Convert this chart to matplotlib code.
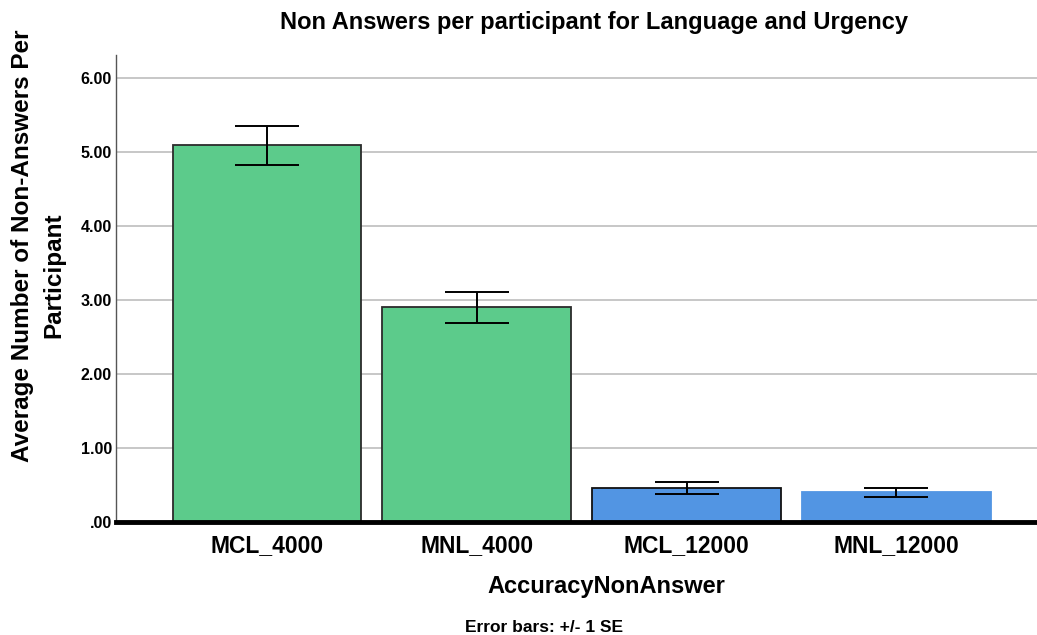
import numpy as np
import matplotlib.pyplot as plt

plt.rcParams['font.family'] = ['Liberation Sans', 'DejaVu Sans']

categories = ['MCL_4000', 'MNL_4000', 'MCL_12000', 'MNL_12000']
means = [5.09, 2.90, 0.46, 0.40]
se = [0.265, 0.21, 0.08, 0.06]
colors = ['#5ccb8b', '#5ccb8b', '#5295e3', '#5295e3']
edges = ['#2b2b2b', '#2b2b2b', '#111111', '#5295e3']
ytick_labels = ['.00', '1.00', '2.00', '3.00', '4.00', '5.00', '6.00']

W, H = 1037, 635
fig = plt.figure(figsize=(W / 100, H / 100), dpi=100)
ax = fig.add_axes([116 / W, 113 / H, 1 - 116 / W, 467 / H])

x = np.arange(len(categories))
ax.bar(x, means, width=0.9, color=colors, edgecolor=edges, linewidth=1.3, zorder=2)
ax.errorbar(x, means, yerr=se, fmt='none', ecolor='black', elinewidth=1.4,
            capsize=23, capthick=1.4, zorder=3)

ax.set_xlim(-0.72, 3.67)
ax.set_ylim(0, 6.31)
ax.set_yticks(range(7))
ax.set_yticklabels(ytick_labels, fontsize=11.5, fontweight='bold')
ax.set_xticks(x)
ax.set_xticklabels(categories, fontsize=16.5, fontweight='bold')
ax.tick_params(axis='both', length=0)
ax.tick_params(axis='y', pad=3)
ax.tick_params(axis='x', pad=9)

ax.yaxis.grid(True, color='#b8b8b8', linewidth=1.1, zorder=0)
ax.set_axisbelow(True)
for s in ['top', 'right']:
    ax.spines[s].set_visible(False)
ax.spines['left'].set_color('#555555')
ax.spines['left'].set_linewidth(1.0)
ax.spines['bottom'].set_linewidth(3.5)
ax.spines['bottom'].set_color('black')
ax.spines['bottom'].set_zorder(4)

# titles and axis labels placed in figure pixels
def ftext(px, py, s, **kw):
    fig.text(px / W, 1 - py / H, s, ha='center', va='center', fontweight='bold', **kw)

ftext(594, 22, 'Non Answers per participant for Language and Urgency', fontsize=17)
ftext(23, 246, 'Average Number of Non-Answers Per', fontsize=17.5, rotation=90)
ftext(54, 275, 'Participant', fontsize=17.5, rotation=90)
ftext(606, 587, 'AccuracyNonAnswer', fontsize=17)
ftext(544, 627, 'Error bars: +/- 1 SE', fontsize=12.5)

fig.savefig('out.png', dpi=100)
